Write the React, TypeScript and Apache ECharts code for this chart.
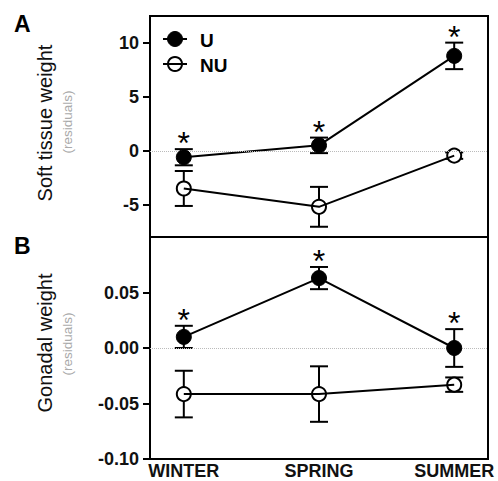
import React, { useEffect, useRef } from "react";
import * as echarts from "echarts";

const seasons = ["WINTER", "SPRING", "SUMMER"];
const seasonPos = [0, 1, 2];

// Panel A: soft tissue weight (residuals)
const softU = [-0.6, 0.5, 8.8];
const softUErr = [0.75, 0.72, 1.23];
const softNU = [-3.5, -5.2, -0.45];
const softNUErr = [1.62, 1.85, 0.3];
const softSig = [true, true, true];
const softTicks = [-5, 0, 5, 10];

// Panel B: gonadal weight (residuals)
const gonU = [0.01, 0.063, 0.0];
const gonUErr = [0.01, 0.01, 0.017];
const gonNU = [-0.0415, -0.0415, -0.033];
const gonNUErr = [0.021, 0.025, 0.0065];
const gonSig = [true, true, true];
const gonTicks = [-0.1, -0.05, 0, 0.05];

const FONT = "'Liberation Sans', Arial, sans-serif";

function errRender(params: any, api: any) {
  const x = api.value(0);
  const y = api.value(1);
  const e = api.value(2);
  const top = api.coord([x, y + e]);
  const bot = api.coord([x, y - e]);
  const hw = 9;
  const style = { stroke: "#000", lineWidth: 2 };
  return {
    type: "group",
    children: [
      { type: "line", shape: { x1: top[0], y1: top[1], x2: bot[0], y2: bot[1] }, style },
      { type: "line", shape: { x1: top[0] - hw, y1: top[1], x2: top[0] + hw, y2: top[1] }, style },
      { type: "line", shape: { x1: bot[0] - hw, y1: bot[1], x2: bot[0] + hw, y2: bot[1] }, style },
    ],
  };
}

function starRender(params: any, api: any) {
  const x = api.value(0);
  const y = api.value(1);
  const p = api.coord([x, y]);
  return {
    type: "text",
    x: p[0],
    y: p[1] - 13 + 7,
    style: {
      text: "*",
      fontSize: 32,
      fontFamily: FONT,
      fill: "#000",
      align: "center",
      verticalAlign: "middle",
    },
  };
}

function panelSeries(
  gi: number,
  u: number[],
  uErr: number[],
  nu: number[],
  nuErr: number[],
  sig: boolean[]
) {
  const uPts = seasonPos.map((p, i) => [p, u[i]]);
  const nuPts = seasonPos.map((p, i) => [p, nu[i]]);
  const errData = [
    ...seasonPos.map((p, i) => [p, u[i], uErr[i]]),
    ...seasonPos.map((p, i) => [p, nu[i], nuErr[i]]),
  ];
  const starData = seasonPos
    .map((p, i) => (sig[i] ? [p, u[i] + uErr[i]] : null))
    .filter((d) => d !== null);
  return [
    {
      type: "line",
      xAxisIndex: gi,
      yAxisIndex: gi,
      data: [],
      silent: true,
      markLine: {
        silent: true,
        symbol: "none",
        label: { show: false },
        lineStyle: { color: "#bbb", type: "dotted", width: 1 },
        data: [{ yAxis: 0 }],
      },
      z: 1,
    },
    {
      type: "custom",
      xAxisIndex: gi,
      yAxisIndex: gi,
      data: errData,
      renderItem: errRender,
      z: 2,
      silent: true,
    },
    {
      type: "scatter",
      xAxisIndex: gi,
      yAxisIndex: gi,
      data: nuPts,
      symbol: "circle",
      symbolSize: 14,
      itemStyle: { color: "#fff", borderColor: "#000", borderWidth: 2, opacity: 1 },
      z: 3,
    },
    {
      type: "line",
      xAxisIndex: gi,
      yAxisIndex: gi,
      data: nuPts,
      showSymbol: false,
      lineStyle: { color: "#000", width: 2 },
      z: 4,
    },
    {
      type: "line",
      xAxisIndex: gi,
      yAxisIndex: gi,
      data: uPts,
      showSymbol: false,
      lineStyle: { color: "#000", width: 2 },
      z: 4,
    },
    {
      type: "scatter",
      xAxisIndex: gi,
      yAxisIndex: gi,
      data: uPts,
      symbol: "circle",
      symbolSize: 15,
      itemStyle: { color: "#000", borderColor: "#000", borderWidth: 1, opacity: 1 },
      z: 5,
    },
    {
      type: "custom",
      xAxisIndex: gi,
      yAxisIndex: gi,
      data: starData,
      renderItem: starRender,
      z: 6,
      silent: true,
    },
  ];
}

export default function App() {
  const ref = useRef<HTMLDivElement>(null);
  useEffect(() => {
    document.body.style.margin = "0";
    if (!ref.current) return;
    const chart = echarts.init(ref.current, undefined, { renderer: "svg" });
    const axisLineStyle = { color: "#000", width: 2 };
    const labelStyle = {
      color: "#111",
      fontFamily: FONT,
      fontSize: 18,
      fontWeight: "bold" as const,
    };
    const option: any = {
      animation: false,
      backgroundColor: "#fff",
      grid: [
        { left: 150, top: 16, width: 338, height: 221, show: true, borderColor: "#000", borderWidth: 2 },
        { left: 150, top: 237, width: 338, height: 222, show: true, borderColor: "#000", borderWidth: 2 },
      ],
      xAxis: [
        {
          type: "value",
          gridIndex: 0,
          min: -0.25,
          max: 2.25,
          axisLine: { show: false, onZero: false },
          axisTick: { show: false },
          axisLabel: { show: false },
          splitLine: { show: false },
        },
        {
          type: "value",
          gridIndex: 1,
          min: -0.25,
          max: 2.25,
          axisLine: { show: true, onZero: false, lineStyle: axisLineStyle },
          axisTick: { show: false },
          splitLine: { show: false },
          axisLabel: {
            ...labelStyle,
            margin: 3,
            customValues: seasonPos,
            formatter: (v: number) => {
              const i = seasonPos.indexOf(Math.round(v * 1000) / 1000);
              return i >= 0 ? seasons[i] : "";
            },
          },
        },
      ],
      yAxis: [
        {
          type: "value",
          gridIndex: 0,
          min: -8,
          max: 12.5,
          axisLine: { show: true, onZero: false, lineStyle: axisLineStyle },
          axisTick: { show: true, inside: false, length: 7, lineStyle: { width: 2, color: "#000" }, customValues: softTicks },
          axisLabel: { ...labelStyle, margin: 11, customValues: softTicks, formatter: (v: number) => String(Math.round(v)) },
          splitLine: { show: false },
        },
        {
          type: "value",
          gridIndex: 1,
          min: -0.1,
          max: 0.1,
          axisLine: { show: true, onZero: false, lineStyle: axisLineStyle },
          axisTick: { show: true, inside: false, length: 7, lineStyle: { width: 2, color: "#000" }, customValues: gonTicks },
          axisLabel: { ...labelStyle, margin: 11, customValues: gonTicks, formatter: (v: number) => v.toFixed(2).replace("-0.00", "0.00") },
          splitLine: { show: false },
        },
      ],
      series: [
        ...panelSeries(0, softU, softUErr, softNU, softNUErr, softSig),
        ...panelSeries(1, gonU, gonUErr, gonNU, gonNUErr, gonSig),
      ],
      graphic: [
        { type: "text", left: 14, top: 12, style: { text: "A", fontSize: 23, fontWeight: "bold", fontFamily: FONT, fill: "#000" } },
        { type: "text", left: 14, top: 234, style: { text: "B", fontSize: 23, fontWeight: "bold", fontFamily: FONT, fill: "#000" } },
        {
          type: "text", x: 45, y: 123, rotation: Math.PI / 2,
          style: { text: "Soft tissue weight", fontSize: 20, fontFamily: FONT, fill: "#111", align: "center", verticalAlign: "middle" },
        },
        {
          type: "text", x: 67, y: 122, rotation: Math.PI / 2,
          style: { text: "(residuals)", fontSize: 13.5, fontFamily: FONT, fill: "#aaa", align: "center", verticalAlign: "middle" },
        },
        {
          type: "text", x: 45, y: 343, rotation: Math.PI / 2,
          style: { text: "Gonadal weight", fontSize: 20, fontFamily: FONT, fill: "#111", align: "center", verticalAlign: "middle" },
        },
        {
          type: "text", x: 67, y: 344, rotation: Math.PI / 2,
          style: { text: "(residuals)", fontSize: 13.5, fontFamily: FONT, fill: "#aaa", align: "center", verticalAlign: "middle" },
        },
        // legend
        { type: "line", shape: { x1: 163, y1: 39, x2: 187, y2: 39 }, style: { stroke: "#000", lineWidth: 2 } },
        { type: "circle", shape: { cx: 175, cy: 39, r: 7.5 }, style: { fill: "#000", stroke: "#000", lineWidth: 1 } },
        { type: "text", x: 200, y: 40, style: { text: "U", fontSize: 19, fontWeight: "bold", fontFamily: FONT, fill: "#000", verticalAlign: "middle" } },
        { type: "circle", shape: { cx: 175, cy: 64, r: 7 }, style: { fill: "#fff", stroke: "#000", lineWidth: 2 } },
        { type: "line", shape: { x1: 163, y1: 64, x2: 187, y2: 64 }, style: { stroke: "#000", lineWidth: 2 } },
        { type: "text", x: 200, y: 65, style: { text: "NU", fontSize: 19, fontWeight: "bold", fontFamily: FONT, fill: "#000", verticalAlign: "middle" } },
      ],
    };
    chart.setOption(option);
    return () => chart.dispose();
  }, []);
  return <div ref={ref} style={{ width: 498, height: 481 }} />;
}
